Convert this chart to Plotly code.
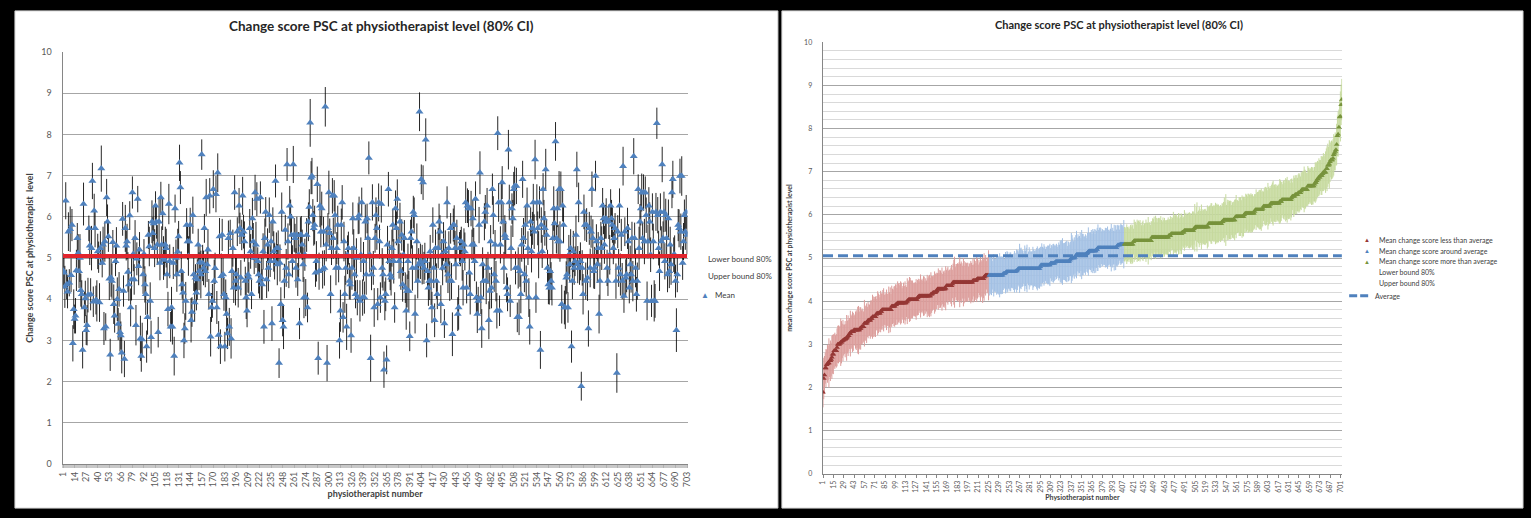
import plotly.graph_objects as go

# ---------------- data ----------------
mean_part1 = [4.70, 4.64, 4.30, 6.39, 4.36, 4.18, 5.64, 4.40, 5.70, 4.58,
              5.80, 2.93, 3.76, 3.52, 3.60, 4.70, 5.48, 5.12, 4.68, 5.00,
              4.22, 4.12, 2.77, 6.31, 3.80, 4.02, 3.25, 3.37, 4.10, 5.72,
              5.30, 4.12, 5.24, 6.87, 3.94, 6.15, 5.72, 3.98, 3.96, 5.16,
              5.02, 3.92, 5.24, 7.17, 4.88, 5.32, 3.29, 5.40, 3.33, 6.47,
              5.88, 5.52, 4.50, 2.65, 4.52, 4.44, 5.38, 3.88, 3.60, 4.92,
              5.30, 4.00, 3.40, 4.24, 3.20, 3.12, 2.70, 5.95, 4.20, 2.55,
              5.72, 5.30, 5.40, 4.66, 4.36, 6.03, 3.80, 4.48, 6.59, 5.10,
              4.48, 5.48, 3.37, 4.98, 6.43, 4.80, 5.20, 3.05, 2.62, 3.02]
mean_part2 = [4.60, 5.10, 4.36, 4.12, 2.85, 3.56, 5.56, 5.28, 3.96, 3.08,
              5.88, 5.60, 5.84, 5.24, 6.27, 5.88, 5.32, 3.20, 5.88, 4.88,
              6.47, 5.32, 6.08, 5.00, 4.95, 5.32, 5.24, 4.60, 3.76, 6.31,
              4.92, 3.33, 3.80, 3.33, 4.88, 2.62, 6.20, 5.00, 4.60, 5.15,
              5.52, 7.31, 6.71, 4.68, 4.36, 4.16, 3.00, 3.29, 3.96, 5.80,
              5.40, 5.05, 5.40, 5.80, 3.49, 3.69, 6.04, 4.60, 3.92, 4.52,
              4.16, 4.48, 5.32, 4.68, 4.90, 4.60, 7.51, 4.88, 4.76, 5.72,
              4.68, 6.47, 4.84, 5.20, 4.12, 6.51, 3.09, 3.80, 3.96, 6.67,
              4.44, 4.75, 6.55, 3.80, 7.07, 3.13, 5.52, 2.85, 4.56]
mean_part3 = [5.56, 4.60, 4.12, 2.85, 4.04, 3.64, 3.17, 5.48, 3.33, 5.60,
              3.05, 4.68, 5.24, 4.28, 6.59, 4.44, 4.60, 5.64, 4.28, 6.27,
              5.72, 4.52, 5.56, 6.51, 5.64, 5.40, 4.44, 4.04, 3.72, 4.60,
              4.52, 5.72, 5.16, 4.12, 5.96, 5.40, 5.00, 6.59, 5.32, 6.43,
              4.92, 4.60, 4.44, 6.47, 4.52, 4.36, 5.16, 3.33, 5.48,
              6.12, 4.48, 5.32, 4.76, 6.04, 4.92, 5.40, 3.41, 5.88,
              5.16, 4.92, 6.87, 5.24, 4.84, 5.24, 2.45, 4.88, 3.88, 6.12,
              3.49, 3.33, 4.44, 5.68, 4.76, 7.27, 5.40, 4.60, 6.27, 6.00,
              5.56, 4.92, 7.27, 5.56, 5.48, 4.76, 5.56, 4.48,
              5.08, 3.41, 5.56]
mean_part4 = [5.56, 5.32, 4.84, 4.04, 5.08, 4.04, 5.56, 3.80, 5.88, 6.24,
              8.28, 6.95, 6.99, 6.04, 5.72, 5.80, 4.64, 4.92, 6.79, 2.57,
              4.68, 6.27, 5.64, 6.20, 4.72, 5.64, 4.76, 8.67, 5.32, 2.45,
              5.72, 6.59, 5.60, 4.12, 5.24, 6.51, 5.48, 6.51, 6.04, 4.76,
              5.24, 5.80, 4.76, 3.00, 3.72, 5.80, 6.35, 3.56, 5.40, 4.12,
              4.76, 3.33, 5.08, 5.24, 4.44, 4.36, 3.12, 4.76,
              5.96, 5.24, 4.60, 4.12, 5.00, 4.04, 5.96, 6.04,
              3.96, 5.08, 6.35, 4.04, 4.92, 4.04, 5.88, 4.60, 5.96, 5.48,
              7.43, 5.08, 2.57, 4.60, 6.35, 4.76, 3.80, 5.48, 6.04, 5.72,
              3.88, 6.35, 5.40, 4.04]
mean_part5 = [6.31, 4.76, 4.60, 2.29, 3.96, 4.12, 2.53, 5.32, 6.67, 4.92,
              4.60, 4.52, 5.24, 5.80, 4.92, 3.80, 6.20, 5.72, 6.43,
              5.40, 4.92, 5.88, 4.68, 5.56, 4.36, 5.08, 5.48, 4.28, 3.72,
              4.20, 4.92, 4.20, 3.10, 5.48, 5.64, 4.76, 6.12, 6.04,
              3.64, 4.76, 5.40, 4.44, 4.84, 8.55, 4.92, 6.91, 4.84, 6.83,
              4.76, 4.92, 7.87, 3.00, 4.68, 4.28, 4.44, 5.16, 4.44,
              3.80, 5.80, 4.76, 3.49, 5.24, 4.44, 4.12, 5.24,
              5.88, 5.64, 3.88, 5.08, 4.76, 5.40, 3.41, 5.16, 4.84, 6.35,
              4.60, 5.24, 4.44, 5.72, 4.44, 3.15, 5.80, 5.80,
              5.24, 4.84, 5.48, 3.64, 3.80, 5.24]
mean_part6 = [5.24, 5.40, 4.92, 4.28, 5.32, 5.16, 6.35, 4.28, 6.27, 6.20,
              4.64, 4.12, 6.20, 5.32, 5.96, 5.32, 4.92,
              6.43, 4.04, 3.64, 3.96, 5.80, 7.07, 4.04, 3.29, 4.84, 4.44,
              5.88, 6.12, 4.44, 6.27, 4.76, 3.49, 4.20, 5.40, 4.28, 6.67,
              6.04, 4.60, 5.32, 4.44, 3.72, 8.03, 6.35, 3.72, 5.32,
              6.35, 6.83, 5.88, 4.76, 5.56, 5.48, 4.28, 4.12, 7.63, 6.35,
              3.96, 5.24, 6.20, 5.96, 6.67, 6.75, 4.76, 6.75, 3.56,
              4.76, 3.56, 4.68, 4.12, 5.32, 6.91, 5.48, 4.60, 5.80,
              4.44, 6.27, 5.24, 4.04, 3.33, 5.88, 5.16, 5.72, 6.35,
              5.64, 7.39, 4.04, 6.35, 5.72, 5.08]
mean_part7 = [6.35, 2.77, 5.80, 5.16, 6.67, 5.96, 5.72, 7.15, 5.56, 4.76,
              4.36, 4.28, 4.68, 4.44, 4.28, 5.48, 6.20, 5.84, 7.83, 5.48,
              6.20, 5.40, 6.67, 5.40, 6.67, 3.88, 6.27, 5.80, 3.80, 3.80,
              4.52, 4.60, 3.80, 5.08, 4.84, 5.24, 2.85, 4.44, 5.16, 4.76,
              4.92, 5.56, 7.15, 4.84, 6.35, 4.76, 4.92, 1.89, 4.76, 4.12,
              6.12, 5.80, 4.44, 5.80, 4.52, 3.29, 5.72, 4.76, 5.64, 6.67,
              5.48, 4.68, 4.76, 6.99, 5.40, 4.84, 5.24, 3.64,
              4.44, 5.48, 5.24, 6.27, 5.96, 5.32, 5.88, 5.96,
              4.76, 4.44, 5.88, 5.08, 6.27, 5.96, 5.80, 5.24,
              5.48, 5.72, 4.44, 2.21, 5.64, 4.76]
mean_part8 = [6.27, 4.60, 5.56, 4.44, 7.23, 4.08, 5.64, 4.52, 4.60, 5.72,
              5.40, 4.28, 4.84, 4.60, 5.48, 4.44, 7.47, 5.48, 4.76, 4.12,
              4.44, 6.67, 5.24, 5.88, 6.20, 6.59, 5.48, 6.59, 5.40, 6.59,
              6.04, 3.96, 5.40, 6.27, 5.88, 5.08, 3.96, 6.12, 5.40, 3.96,
              3.96, 6.12, 8.27, 6.04, 5.24, 4.68, 6.12, 5.40, 7.27, 5.48,
              6.12, 4.92, 6.04, 5.48, 4.60, 5.96, 4.68, 5.32, 4.84,
              6.59, 6.91, 5.08, 5.08, 4.44, 3.25, 4.60, 5.80, 5.72, 6.99,
              5.64, 6.99, 4.88, 5.40, 6.04, 5.64, 6.12, 5.56]

# half width of the 80% confidence interval of every physiotherapist
ci_half_width = [
    .42, .38, .51, .45, .36, .40, .47, .33, .55, .41, .39, .44, .48, .35, .43, .50, .37, .46, .41, .58,
    .40, .34, .45, .52, .38, .43, .36, .49, .42, .31, .47, .39, .54, .44, .37, .41, .46, .35, .50, .43,
    .38, .47, .41, .56, .35, .44, .40, .49, .33, .45, .42, .37, .52, .39, .46, .43, .30, .48, .41, .36,
    .45, .53, .39, .42, .47, .34, .50, .41, .38, .44, .57, .36, .43, .48, .40, .35, .46, .51, .39, .42,
    .37, .44, .49, .40, .32, .46, .43, .55, .38, .41, .47, .36, .44, .50, .39, .42, .34, .48, .45, .40,
    .52, .39, .43, .46, .35, .41, .48, .37, .60, .42, .38, .45, .40, .53, .36, .44, .47, .33, .42, .49,
    .41, .36, .50, .43, .39, .47, .34, .45, .42, .56, .38, .44, .40, .48, .35, .51, .43, .37, .46, .41,
    .44, .48, .38, .42, .54, .36, .45, .40, .47, .33, .43, .49, .39, .46, .41, .58, .37, .44, .42, .35,
    .39, .45, .42, .50, .37, .43, .48, .35, .41, .46, .52, .38, .44, .40, .47, .34, .45, .42, .55, .39,
    .47, .40, .36, .44, .51, .38, .43, .46, .33, .49, .41, .45, .37, .42, .59, .40, .35, .48, .43, .38,
    .43, .37, .46, .41, .49, .35, .52, .40, .44, .38, .47, .42, .36, .50, .45, .39, .43, .56, .41, .34,
    .46, .42, .39, .53, .37, .44, .41, .48, .36, .45, .40, .57, .43, .38, .47, .42, .35, .49, .44, .40,
    .38, .50, .43, .36, .45, .41, .47, .39, .54, .42, .37, .46, .40, .44, .33, .48, .42, .51, .39, .45,
    .41, .35, .48, .44, .40, .55, .38, .43, .46, .37, .42, .50, .39, .45, .41, .36, .47, .43, .58, .40,
    .44, .39, .42, .47, .34, .49, .43, .40, .45, .52, .38, .41, .46, .36, .43, .48, .40, .44, .37, .53,
    .36, .46, .41, .43, .50, .38, .45, .42, .39, .47, .35, .44, .51, .40, .42, .37, .48, .45, .41, .56,
    .47, .40, .44, .37, .42, .53, .39, .46, .41, .34, .48, .43, .38, .45, .50, .42, .36, .44, .47, .39,
    .42, .49, .36, .45, .40, .43, .57, .38, .44, .41, .47, .35, .43, .52, .39, .46, .41, .37, .45, .48,
    .39, .44, .47, .41, .35, .46, .42, .50, .38, .43, .45, .40, .54, .37, .44, .41, .48, .36, .42, .46,
    .45, .38, .42, .51, .44, .37, .46, .40, .43, .49, .36, .45, .41, .55, .39, .43, .47, .34, .44, .42,
    .40, .47, .43, .36, .48, .42, .39, .45, .52, .41, .37, .44, .46, .40, .58, .38, .43, .49, .41, .45,
    .43, .36, .49, .44, .40, .46, .38, .42, .47, .35, .51, .43, .39, .45, .41, .48, .37, .44, .53, .40,
    .48, .42, .37, .45, .41, .54, .39, .44, .36, .47, .43, .40, .46, .50, .38, .42, .45, .35, .49, .43,
    .37, .45, .41, .48, .43, .39, .46, .34, .44, .52, .40, .47, .42, .38, .45, .41, .56, .43, .39, .46,
    .44, .40, .50, .38, .46, .42, .36, .49, .43, .41, .47, .37, .45, .53, .40, .44, .39, .48, .42, .35,
    .41, .48, .43, .39, .55, .37, .45, .42, .47, .40, .44, .36, .50, .43, .38, .46, .41, .45, .49, .43,
    .46, .38, .44, .41, .47, .43, .35, .51, .40, .45, .42, .48, .37, .44, .41, .57, .39, .46, .43, .40,
    .39, .45, .42, .50, .36, .44, .48, .41, .38, .46, .43, .40, .54, .42, .47, .37, .45, .41, .44, .49,
    .43, .47, .38, .44, .41, .52, .40, .45, .37, .48, .42, .46, .39, .44, .50, .41, .36, .47, .43, .45,
    .48, .41, .46, .35, .43, .49, .42, .38, .45, .41, .56, .44, .40, .47, .39, .43, .46, .42, .51, .37,
    .42, .44, .39, .47, .45, .40, .53, .43, .38, .46, .41, .49, .44, .36, .42, .48, .40, .45, .43, .39,
    .45, .37, .43, .48, .40, .46, .42, .51, .39, .44, .47, .41, .35, .45, .43, .50, .42, .38, .46, .44,
    .40, .49, .44, .38, .47, .42, .45, .36, .52, .43, .41, .46, .40, .44, .55, .39, .43, .47, .41, .45,
    .47, .42, .39, .45, .43, .50, .41, .46, .38, .44, .42, .48, .45, .37, .43, .41, .49, .44, .40, .46,
    .43, .46, .41, .44, .49, .38, .45, .42, .47, .40, .53, .43, .39, .46, .42, .44, .48, .41, .45, .38,
    .44, .41, .47]

average_score = 5.05
n_less_than_average = 225
n_around_average = 183
left_tick_step = 13
right_tick_step = 14
chart_title = "Change score PSC at physiotherapist level (80% CI)"

mean_score = (mean_part1 + mean_part2 + mean_part3 + mean_part4 +
              mean_part5 + mean_part6 + mean_part7 + mean_part8)
N = len(mean_score)
half = ci_half_width[:N]
physio_id = list(range(1, N + 1))

# right panel: physiotherapists ordered by their mean score
order = sorted(range(N), key=lambda k: mean_score[k])
rank = list(range(1, N + 1))
sorted_mean = [mean_score[k] for k in order]
sorted_half = [half[k] for k in order]

# ---------------- figure ----------------
W, H = 1531, 518
FONT = "Lato"


def fx(px):
    return px / W


def fy(py):
    return 1 - py / H


fig = go.Figure()

# left panel
fig.add_trace(go.Scatter(
    x=physio_id, y=mean_score, mode="markers", name="Mean",
    marker=dict(symbol="triangle-up", size=7, color="#4F81BD", line=dict(width=0)),
    error_y=dict(type="data", array=half, symmetric=True,
                 color="rgba(0,0,0,0.85)", thickness=1, width=0),
    xaxis="x", yaxis="y", showlegend=False, hoverinfo="x+y"))
fig.add_trace(go.Scatter(
    x=physio_id, y=[average_score] * N, mode="lines", name="Average",
    line=dict(color="#E2242C", width=4),
    xaxis="x", yaxis="y", showlegend=False, hoverinfo="skip"))

# right panel
groups = [
    (0, n_less_than_average, "#953735", "#DC9D9B", "Mean change score less than average"),
    (n_less_than_average, n_less_than_average + n_around_average, "#4F81BD", "#A3C0E4",
     "Mean change score around average"),
    (n_less_than_average + n_around_average, N, "#77933C", "#C6DA9E",
     "Mean change score more than average"),
]
for a, b, mcol, ecol, nm in groups:
    fig.add_trace(go.Scatter(
        x=rank[a:b], y=sorted_mean[a:b], mode="markers", name=nm,
        marker=dict(symbol="triangle-up", size=5, color=mcol, line=dict(width=0)),
        error_y=dict(type="data", array=sorted_half[a:b], symmetric=True,
                     color=ecol, thickness=1, width=0),
        xaxis="x2", yaxis="y2", showlegend=False))
fig.add_trace(go.Scatter(
    x=rank, y=[average_score] * N, mode="lines", name="Average",
    line=dict(color="#4F81BD", width=3, dash="10px,5px"),
    xaxis="x2", yaxis="y2", showlegend=False, hoverinfo="skip"))

axis_grey = "#868686"
label_grey = "#595959"

fig.update_layout(
    width=W, height=H, autosize=False,
    margin=dict(l=0, r=0, t=0, b=0),
    paper_bgcolor="black", plot_bgcolor="white",
    font=dict(family=FONT, color="#404040"),
    xaxis=dict(
        domain=[fx(57), fx(686)], range=[0.5, N + 0.5], anchor="y",
        tickmode="linear", tick0=1, dtick=left_tick_step, tickangle=-90,
        tickfont=dict(size=9, color=label_grey),
        showgrid=False, zeroline=False, showline=True, linecolor=axis_grey,
        ticks="outside", ticklen=3, tickcolor="#b0b0b0",
        minor=dict(tickmode="linear", tick0=0.5, dtick=1, ticks="outside",
                   ticklen=3, tickcolor="#c8c8c8", showgrid=False),
        title=dict(text="<b>physiotherapist number</b>",
                   font=dict(size=9, color="#404040"), standoff=4)),
    yaxis=dict(
        domain=[fy(468), fy(47)], range=[0, 10], anchor="x",
        tickmode="linear", tick0=0, dtick=1,
        tickfont=dict(size=9, color=label_grey),
        showgrid=True, gridcolor="#a6a6a6", zeroline=False,
        showline=True, linecolor=axis_grey, ticklabelstandoff=8,
        title=dict(text="<b>Change score PSC at physiotherapist  level</b>",
                   font=dict(size=9, color="#404040"), standoff=6)),
    xaxis2=dict(
        domain=[fx(822), fx(1345)], range=[0.5, N + 0.5], anchor="y2",
        tickmode="linear", tick0=1, dtick=right_tick_step, tickangle=-90,
        tickfont=dict(size=7, color=label_grey),
        showgrid=False, zeroline=False, showline=True, linecolor=axis_grey,
        ticks="outside", ticklen=3, tickcolor=axis_grey,
        title=dict(text="<b>Physiotherapist number</b>",
                   font=dict(size=7, color="#404040"), standoff=3)),
    yaxis2=dict(
        domain=[fy(478), fy(37)], range=[0, 10], anchor="x2",
        tickmode="linear", tick0=0, dtick=1,
        tickfont=dict(size=7, color=label_grey),
        showgrid=True, gridcolor="#a6a6a6", zeroline=False,
        minor=dict(dtick=0.2, showgrid=True, gridcolor="#d9d9d9"),
        showline=True, linecolor=axis_grey, ticklabelstandoff=8,
        title=dict(text="<b>mean change score PSC at physiotherapist level</b>",
                   font=dict(size=7, color="#404040"), standoff=10)),
    shapes=[
        dict(type="rect", xref="paper", yref="paper", layer="below",
             x0=fx(9), x1=fx(777), y0=fy(513), y1=fy(5),
             fillcolor="white", line=dict(color="#d0d0d0", width=1)),
        dict(type="rect", xref="paper", yref="paper", layer="below",
             x0=fx(781), x1=fx(1527), y0=fy(513), y1=fy(5),
             fillcolor="white", line=dict(color="#d0d0d0", width=1)),
        # right legend symbol for the average line
        dict(type="line", xref="paper", yref="paper",
             x0=fx(1352), x1=fx(1374), y0=fy(296), y1=fy(296),
             line=dict(color="#4F81BD", width=3, dash="8px,3px")),
    ],
)

ann = []
ann.append(dict(text="<b>" + chart_title + "</b>", x=fx(378), y=fy(20),
                font=dict(size=13.5, color="#262626")))
ann.append(dict(text="<b>" + chart_title + "</b>", x=fx(1120), y=fy(19),
                font=dict(size=11, color="#262626")))
# left legend
ann.append(dict(text="Lower bound 80%", x=fx(705), y=fy(258), xanchor="left",
                font=dict(size=8, color="#404040")))
ann.append(dict(text="Upper bound 80%", x=fx(705), y=fy(276), xanchor="left",
                font=dict(size=8, color="#404040")))
ann.append(dict(text="▲", x=fx(704), y=fy(295), font=dict(size=8, color="#4F81BD")))
ann.append(dict(text="Mean", x=fx(712), y=fy(295), xanchor="left",
                font=dict(size=8, color="#404040")))
# right legend
right_items = [("▲", "#953735", "Mean change score less than average", 239),
               ("▲", "#4F81BD", "Mean change score around average", 250),
               ("▲", "#77933C", "Mean change score more than average", 261),
               ("", None, "Lower bound 80%", 272),
               ("", None, "Upper bound 80%", 283),
               ("", None, "Average", 296)]
for sym, col, txt, yy in right_items:
    if sym:
        ann.append(dict(text=sym, x=fx(1370), y=fy(yy), font=dict(size=6, color=col)))
    xx = 1376 if txt == "Average" else 1380
    ann.append(dict(text=txt, x=fx(xx), y=fy(yy), xanchor="left",
                    font=dict(size=7, color="#404040")))

for a in ann:
    a.update(xref="paper", yref="paper", showarrow=False)
    a.setdefault("xanchor", "center")
    a.setdefault("yanchor", "middle")
    a["font"]["family"] = FONT
fig.update_layout(annotations=ann)

fig.write_html("out.html")
